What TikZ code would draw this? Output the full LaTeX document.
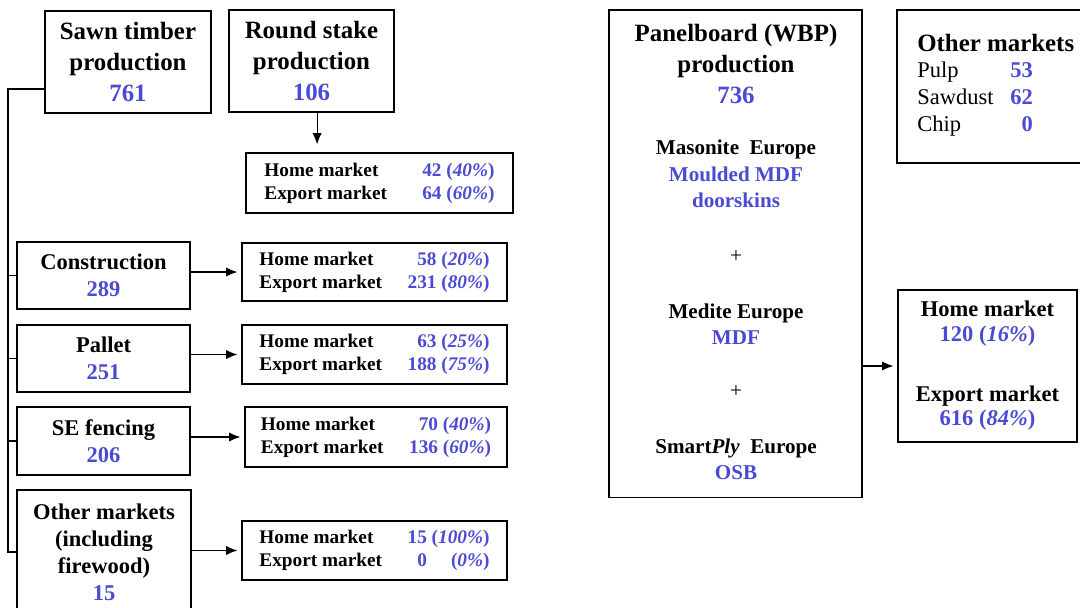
\documentclass[tikz,border=0pt]{standalone}
\usepackage{fontspec}
\setmainfont{Liberation Serif}
\usepackage{xcolor}
\usetikzlibrary{arrows.meta}
\usetikzlibrary{positioning}

\definecolor{numblue}{RGB}{74,74,212}
\newcommand{\nv}[1]{\textcolor{numblue}{#1}}
\newcommand{\mkrows}[2]{\begin{tabular*}{5.75cm}{@{}l@{\extracolsep{\fill}}r@{}}
	Home market & \nv{#1}\\
	Export market & \nv{#2}
\end{tabular*}}

\tikzset{
	box/.style = {draw, line width=0.8pt, inner sep=0pt, align=center},
	big/.style = {font=\fontsize{17.7}{22}\selectfont\bfseries},
	mid/.style = {font=\fontsize{16}{19.2}\selectfont\bfseries},
	sml/.style = {font=\fontsize{13.7}{16.3}\selectfont\bfseries},
	arr/.style = {-{Latex[length=8pt,width=6.5pt]}, line width=0.8pt, shorten >=0.1cm}
}

\begin{document}
\begin{tikzpicture}[x=0.025cm, y=-0.025cm]
		\useasboundingbox (0,0) rectangle (1080,607);

		% sawn timber side
		\node[box, big, minimum width=4.15cm, minimum height=2.55cm] (saw) at (128,62)
			{Sawn timber\\production\\\nv{761}};
		\node[box, big, minimum width=4.125cm, minimum height=2.55cm] (rstake) at (311.5,61)
			{Round stake\\production\\\nv{106}};
		\node[box, sml, minimum width=6.675cm, minimum height=1.5cm] (rmk) at (379.5,183)
			{\mkrows{42 (\textit{40\%})}{64 (\textit{60\%})}};

		\node[box, mid, minimum width=4.325cm, minimum height=1.675cm] (cons) at (103.5,275.5)
			{Construction\\\nv{289}};
		\node[box, mid, minimum width=4.325cm, minimum height=1.675cm] (pall) at (103.5,358.5)
			{Pallet\\\nv{251}};
		\node[box, mid, minimum width=4.325cm, minimum height=1.7cm] (sef) at (103.5,441)
			{SE fencing\\\nv{206}};
		\node[box, mid, minimum width=4.35cm, minimum height=3.1cm] (oth) at (104,552)
			{Other markets\\(including\\firewood)\\\nv{15}};

		\node[box, sml, minimum width=6.625cm, minimum height=1.45cm] (cmk) at (374.5,272)
			{\mkrows{58 (\textit{20\%})}{231 (\textit{80\%})}};
		\node[box, sml, minimum width=6.625cm, minimum height=1.475cm] (pmk) at (374.5,354.5)
			{\mkrows{63 (\textit{25\%})}{188 (\textit{75\%})}};
		\node[box, sml, minimum width=6.55cm, minimum height=1.5cm] (semk) at (376,437)
			{\mkrows{70 (\textit{40\%})}{136 (\textit{60\%})}};
		\node[box, sml, minimum width=6.625cm, minimum height=1.475cm] (omk) at (374.5,550.5)
			{\mkrows{15 (\textit{100\%})}{0\hspace{1.25em}(\textit{0\%})}};

		\coordinate (tr) at (8,89);
		\draw[line width=0.8pt] (saw.west |- tr) -- (tr) |- (oth.west);
		\draw[line width=0.8pt] (tr |- cons.west) -- (cons.west);
		\draw[line width=0.8pt] (tr |- pall.west) -- (pall.west);
		\draw[line width=0.8pt] (tr |- sef.west) -- (sef.west);

		\draw[arr, shorten >=0.2cm] ([xshift=0.14cm]rstake.south) -- ([xshift=0.14cm]rstake.south |- rmk.north);
		\draw[arr] (cons.east |- cmk.west) -- (cmk.west);
		\draw[arr] (pall.east |- pmk.west) -- (pmk.west);
		\draw[arr] (sef.east |- semk.west) -- (semk.west);
		\draw[arr] (oth.east |- omk.west) -- (omk.west);

		% panelboard side
		\node[box, minimum width=6.325cm, minimum height=12.175cm] (panel) at (735.5,253.5) {};
		\node[big, align=center] (ptitle) at (736,64) {Panelboard (WBP)\\production\\\nv{736}};
		\node[font=\fontsize{15}{18.8}\selectfont\bfseries, align=center] (pmas) at (736,174)
			{Masonite~~Europe\\\nv{Moulded MDF}\\\nv{doorskins}};
		\node[font=\fontsize{15}{18.8}\selectfont] (plus1) at (736,257) {+};
		\node[font=\fontsize{15}{18.8}\selectfont\bfseries, align=center] (pmed) at (736,324)
			{Medite Europe\\\nv{MDF}};
		\node[font=\fontsize{15}{18.8}\selectfont] (plus2) at (736,392) {+};
		\node[font=\fontsize{15}{18.8}\selectfont\bfseries, align=center] (psmart) at (736,459.5)
			{Smart\textit{Ply}~~Europe\\\nv{OSB}};

		\node[box, minimum width=4.95cm, minimum height=3.825cm] (othr) at (996,86.5) {};
		\node[big, anchor=west, inner sep=0pt] (othrhead) at (917,43) {Other markets};
		\node[font=\fontsize{16}{19.2}\selectfont, anchor=west, inner sep=0pt] (othrlist) at (917,99)
			{\begin{tabular}{@{}l@{\hspace{12pt}}r@{}}
				Pulp & \nv{\bfseries 53}\\
				Sawdust & \nv{\bfseries 62}\\
				Chip & \nv{\bfseries 0}
			\end{tabular}};

		\node[box, font=\fontsize{16}{17.5}\selectfont\bfseries, minimum width=4.475cm, minimum height=3.8cm] (wmk) at (987.5,366)
			{Home market\\\nv{120 (\textit{16\%})}\\[25pt]Export market\\\nv{616 (\textit{84\%})}};
		\draw[arr] (panel.east |- wmk.west) -- (wmk.west);
\end{tikzpicture}
\end{document}
